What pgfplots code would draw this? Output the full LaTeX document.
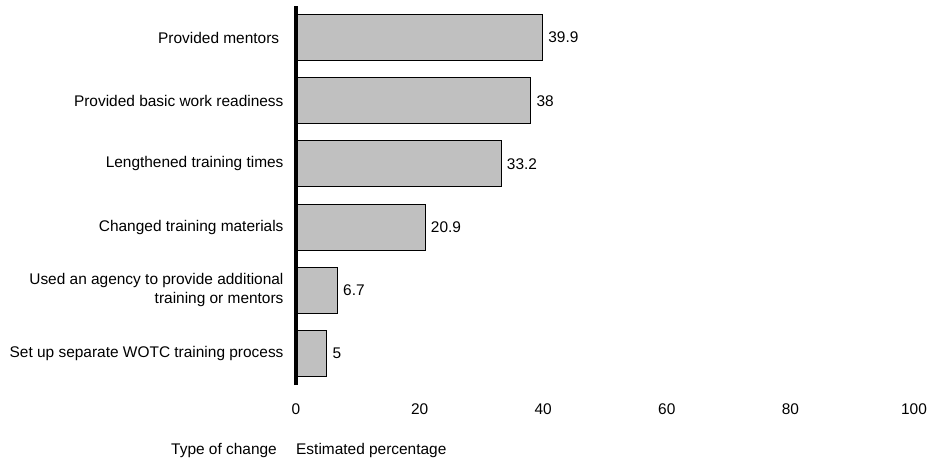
\documentclass[border=0pt]{standalone}
\usepackage{fontspec}
\setmainfont{Liberation Sans}
\usepackage{pgfplots}
\pgfplotsset{compat=1.18}
\newcommand{\lbl}{\fontsize{15.5}{19.5}\selectfont}
\begin{document}
\begin{tikzpicture}
\begin{axis}[
  scale only axis, width=618bp, height=379bp,
  xbar, bar width=0.73,
  xmin=0, xmax=100, ymin=-0.5, ymax=5.5,
  xtick={0,20,...,100},
  ytick={0,...,5},
  yticklabels={Set up separate WOTC training process,{Used an agency to provide additional\\training or mentors},Changed training materials,Lengthened training times,Provided basic work readiness,Provided mentors\ },
  major tick length=0,
  axis line style={draw=none},
  /pgf/number format/assume math mode=true,
  ticklabel style={font=\lbl},
  yticklabel style={align=right, xshift=-9bp},
  xticklabel style={yshift=-15bp},
  nodes near coords,
  nodes near coords style={font=\lbl, xshift=2bp},
  clip=false,
]
\addplot[fill={rgb,255:red,192;green,192;blue,192}, draw=black, line width=1bp]
  coordinates {(5,0) (6.7,1) (20.9,2) (33.2,3) (38,4) (39.9,5)};
\draw[line width=4bp] (axis cs:0,-0.5) -- (axis cs:0,5.5);
\node[anchor=east, inner sep=0pt, font=\lbl] at ([shift={(-19bp,-66bp)}]rel axis cs:0,0) {Type of change};
\node[anchor=west, inner sep=0pt, font=\lbl] at ([shift={(0bp,-66bp)}]rel axis cs:0,0) {Estimated percentage};
\end{axis}
\path ([shift={(-296bp,-74bp)}]current axis.south west) rectangle ([shift={(27bp,6bp)}]current axis.north east);
\end{tikzpicture}
\end{document}
